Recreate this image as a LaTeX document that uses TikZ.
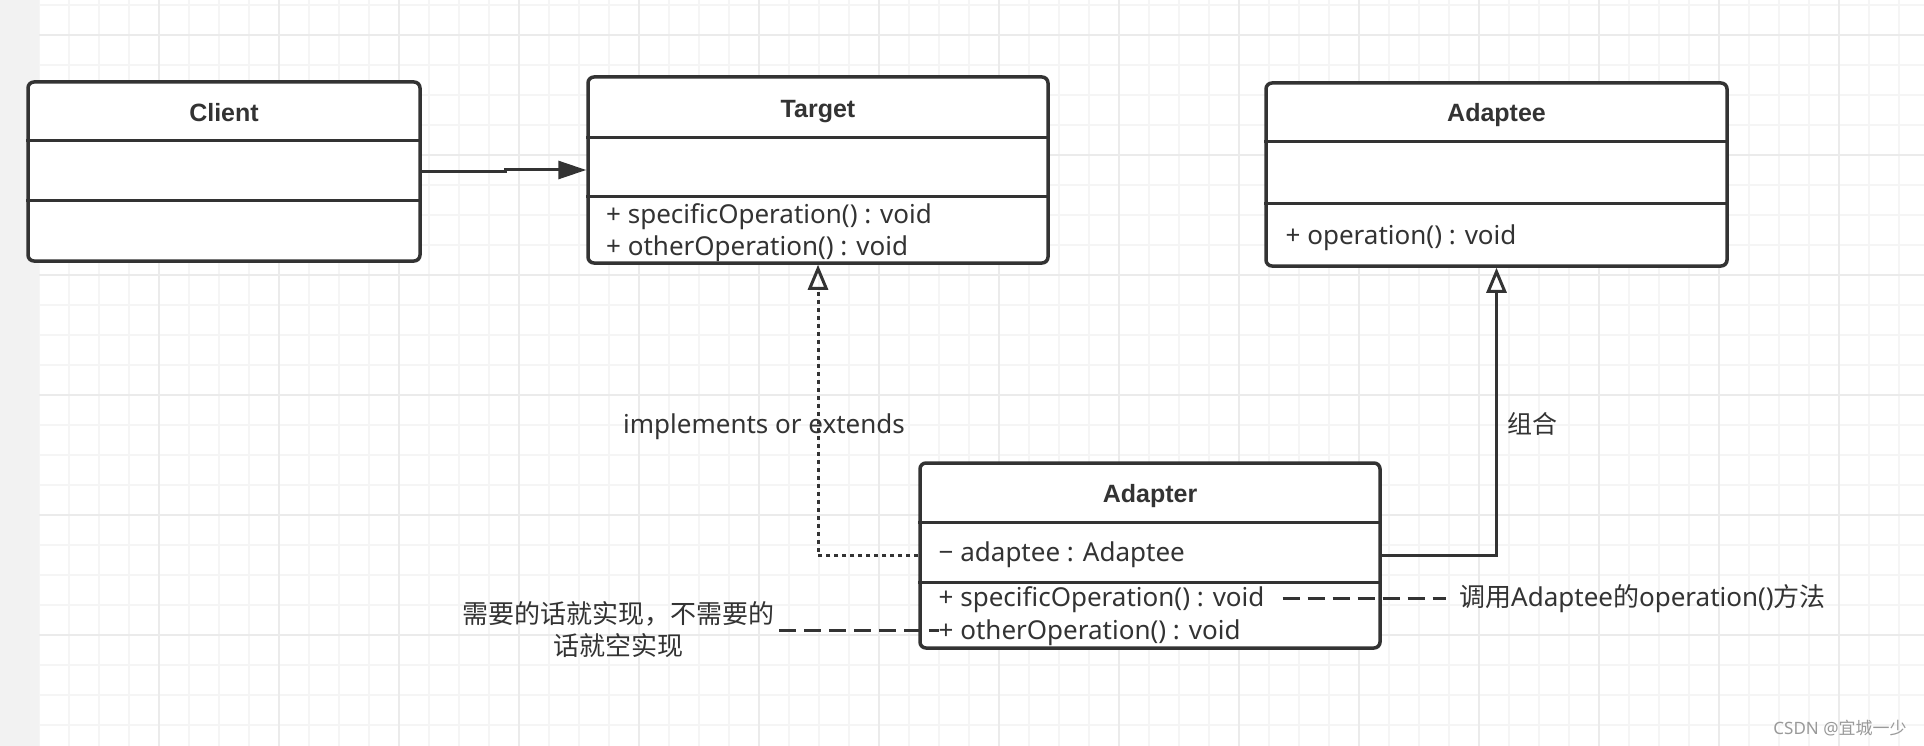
\documentclass[tikz,border=0pt]{standalone}
\usepackage{fontspec}
\setmainfont{Noto Sans}
\newfontfamily\cjk{Noto Sans CJK SC}
\newfontfamily\titlefont{Liberation Sans}
\usetikzlibrary{arrows.meta}
\definecolor{umldark}{HTML}{333333}
\definecolor{gridminor}{HTML}{F5F5F5}
\definecolor{gridmajor}{HTML}{EBEBEB}
\definecolor{sidegray}{HTML}{F2F2F2}

\begin{document}
\begin{tikzpicture}[x=1pt,y=-1pt]
  \tikzstyle{classbox}=[draw=umldark,line width=3.5pt,rounded corners=6pt,fill=white,inner sep=0pt]
  \tikzstyle{classname}=[text=umldark,font=\titlefont\fontsize{25pt}{28pt}\selectfont\bfseries,inner sep=0pt,anchor=base]
  \tikzstyle{member}=[text=umldark,font=\fontsize{26pt}{32pt}\selectfont,inner sep=0pt,anchor=base west]
  \tikzstyle{rowline}=[draw=umldark,line width=3pt]
  \tikzstyle{label}=[text=umldark,font=\fontsize{26pt}{32pt}\selectfont,inner sep=0pt]
  \tikzstyle{assocline}=[draw=umldark,line width=3pt,-{Triangle[length=28pt,width=18pt]}]
  \tikzstyle{realizeline}=[draw=umldark,line width=3pt,-{Triangle[open,length=25pt,width=20pt]}]
  \tikzstyle{gridline}=[draw=gridminor,line width=1.5pt]
  \tikzstyle{gridbold}=[draw=gridmajor,line width=1.5pt]
  \tikzstyle{noteline}=[draw=umldark,line width=3pt,dash pattern=on 17pt off 8pt]
  % canvas
  \useasboundingbox (0,0) rectangle (1924,746);
  \fill[white] (0,0) rectangle (1924,746);
  \foreach \gx in {39,69,...,1924} \draw[gridline] (\gx,0) -- (\gx,746);
  \foreach \gy in {5,35,...,746} \draw[gridline] (39,\gy) -- (1924,\gy);
  \foreach \gx in {159,279,...,1924} \draw[gridbold] (\gx,0) -- (\gx,746);
  \foreach \gy in {35,155,...,746} \draw[gridbold] (39,\gy) -- (1924,\gy);
  \fill[sidegray] (0,0) rectangle (39,746);
  % classes
  \node[classbox,minimum width=392pt,minimum height=179pt] (client)  at (224,171.5)  {};
  \node[classbox,minimum width=460pt,minimum height=186pt] (target)  at (818,170)    {};
  \node[classbox,minimum width=461pt,minimum height=183pt] (adaptee) at (1496.5,174.5) {};
  \node[classbox,minimum width=460pt,minimum height=185pt] (adapter) at (1150,555.5) {};
  \draw[rowline] (client.west |- 0,141) -- (client.east |- 0,141);
  \draw[rowline] (client.west |- 0,201) -- (client.east |- 0,201);
  \draw[rowline] (target.west |- 0,138) -- (target.east |- 0,138);
  \draw[rowline] (target.west |- 0,197) -- (target.east |- 0,197);
  \draw[rowline] (adaptee.west |- 0,142) -- (adaptee.east |- 0,142);
  \draw[rowline] (adaptee.west |- 0,204) -- (adaptee.east |- 0,204);
  \draw[rowline] (adapter.west |- 0,522) -- (adapter.east |- 0,522);
  \draw[rowline] (adapter.west |- 0,582) -- (adapter.east |- 0,582);
  \node[classname] (clientname)  at (224,122)    {Client};
  \node[classname] (targetname)  at (818,118)    {Target};
  \node[classname] (adapteename) at (1496.5,122) {Adaptee};
  \node[classname] (adaptername) at (1150,502)   {Adapter};
  \node[member] (targetop1)   at (606,223)    {+ specificOperation() : void};
  \node[member] (targetop2)   at (606,255)    {+ otherOperation() : void};
  \node[member] (adapteeop)   at (1285.5,244) {+ operation() : void};
  \node[member] (adapterattr) at (938.5,561)  {− adaptee : Adaptee};
  \node[member] (adapterop1)  at (938.5,606)  {+ specificOperation() : void};
  \node[member] (adapterop2)  at (938.5,639)  {+ otherOperation() : void};
  % labels and notes
  \node[label,anchor=base] (implLabel) at (764,433) {implements or extends};
  \node[label,font=\fontsize{25pt}{30pt}\selectfont\cjk] (compLabel) at (1532,424) {组合};
  \node[label,font=\fontsize{26pt}{32pt}\selectfont\cjk,align=center,inner sep=5pt] (noteLeft) at (618,630)
    {需要的话就实现，不需要的\\话就空实现};
  \node[label,anchor=base west] (noteRight) at (1459,606)
    {{\cjk 调用}Adaptee{\cjk 的}operation(){\cjk 方法}};
  \node[text=black!40,font=\fontsize{17pt}{20pt}\selectfont,inner sep=0pt] (watermark) at (1840,728)
    {CSDN @{\cjk 宜城一少}};
  % connectors
  \draw[assocline] (client.east) -- ++(84,0) |- (target.west);
  \draw[realizeline,dash pattern=on 4pt off 4pt] (adapter.west) -| (target.south);
  \draw[realizeline] (adapter.east) -| (adaptee.south);
  \draw[noteline] (noteLeft.east) -- (noteLeft.east -| adapterop2.west);
  \draw[noteline,shorten <=18pt,shorten >=13pt] (adapterop1.east |- noteRight.west) -- (noteRight.west);
\end{tikzpicture}
\end{document}
